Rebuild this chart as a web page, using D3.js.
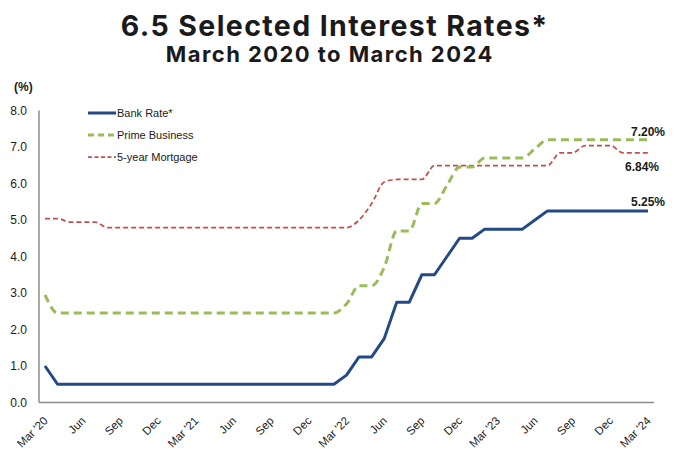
<!DOCTYPE html>
<html>
<head>
<meta charset="utf-8">
<script src="https://cdn.jsdelivr.net/npm/d3@7"></script>
<style>
    body { margin: 0; background: #fff; }
    svg { display: block; }
    .axis text { font-family: "Liberation Sans", Arial, sans-serif; fill: #1a1a1a; }
</style>
</head>
<body>
<div id="chart"></div>
<script>
'use strict';

// month categories, Mar 2020 .. Mar 2024
let months = d3.timeMonths(new Date(2020, 2, 1), new Date(2024, 3, 1)).map(d3.timeFormat('%Y-%m'));

let tickLabels = ["Mar '20", 'Jun', 'Sep', 'Dec', "Mar '21", 'Jun', 'Sep', 'Dec', "Mar '22",
    'Jun', 'Sep', 'Dec', "Mar '23", 'Jun', 'Sep', 'Dec', "Mar '24"];

let bankRate = [1.00,
    0.50, 0.50, 0.50, 0.50, 0.50, 0.50, 0.50, 0.50, 0.50, 0.50, 0.50, 0.50,
    0.50, 0.50, 0.50, 0.50, 0.50, 0.50, 0.50, 0.50, 0.50, 0.50, 0.50,
    0.75, 1.25, 1.25, 1.75, 2.75, 2.75, 3.50, 3.50, 4.00, 4.50,
    4.50, 4.75, 4.75, 4.75, 4.75, 5.00, 5.25, 5.25, 5.25, 5.25, 5.25, 5.25,
    5.25, 5.25, 5.25];

let primeBusiness = [2.95,
    2.45, 2.45, 2.45, 2.45, 2.45, 2.45, 2.45, 2.45, 2.45, 2.45, 2.45, 2.45,
    2.45, 2.45, 2.45, 2.45, 2.45, 2.45, 2.45, 2.45, 2.45, 2.45, 2.45,
    2.70, 3.20, 3.20, 3.70, 4.70, 4.70, 5.45, 5.45, 5.95, 6.45,
    6.45, 6.70, 6.70, 6.70, 6.70, 6.95, 7.20, 7.20, 7.20, 7.20, 7.20, 7.20,
    7.20, 7.20, 7.20];

let mortgage5yr = [5.04, 5.04, 4.94, 4.94, 4.94,
    4.79, 4.79, 4.79, 4.79, 4.79, 4.79, 4.79, 4.79, 4.79, 4.79,
    4.79, 4.79, 4.79, 4.79, 4.79, 4.79, 4.79, 4.79, 4.79, 4.79,
    5.00, 5.45, 6.04, 6.11, 6.11, 6.11, 6.49, 6.49, 6.49,
    6.49, 6.49, 6.49, 6.49, 6.49, 6.49, 6.49, 6.84, 6.84, 7.04, 7.04, 7.04,
    6.84, 6.84, 6.84];

let seriesNames = ['Bank Rate*', 'Prime Business', '5-year Mortgage'];
let yTicks = [0, 1, 2, 3, 4, 5, 6, 7, 8];

let width = 676,
    height = 449;

let svg = d3.select('#chart').append('svg')
    .attr('width', width)
    .attr('height', height);

// scales
let x = d3.scalePoint().domain(months).range([45, 648]);
let y = d3.scaleLinear().domain([0, 8]).range([402.5, 110.5]);

// titles: the original face is wide, so spread the letters to the same width
function fitTitle(txt, cx, by, size, targetW) {
    let t = svg.append('text')
        .attr('x', cx).attr('y', by)
        .attr('text-anchor', 'middle')
        .style('font-family', 'Inter, "Open Sans", sans-serif')
        .style('font-weight', 700)
        .style('font-size', size + 'px')
        .style('fill', '#1a1a1a')
        .text(txt);
    let w = t.node().getComputedTextLength();
    if (w > 0 && w < targetW) {
        let ls = (targetW - w) / txt.length;
        t.style('letter-spacing', ls + 'px')
            .attr('x', cx + ls / 2);
    }
}
fitTitle('6.5 Selected Interest Rates*', 334, 36, 28.5, 428);
fitTitle('March 2020 to March 2024', 329, 62, 22, 328);

svg.append('text')
    .attr('x', 14).attr('y', 91)
    .style('font-family', '"Liberation Sans", Arial, sans-serif')
    .style('font-weight', 700)
    .style('font-size', '12px')
    .style('fill', '#1a1a1a')
    .text('(%)');

// axes
let yAxis = d3.axisLeft(y).tickValues(yTicks).tickFormat(d3.format('.1f')).tickSize(0).tickPadding(12);
let gY = svg.append('g')
    .attr('class', 'axis')
    .attr('transform', 'translate(39,0)')
    .call(yAxis);
gY.select('.domain').remove();
gY.selectAll('text').style('font-size', '12px');

let tickIdx = months.filter(function(d, i) { return i % 3 === 0; });
let xAxis = d3.axisBottom(x).tickValues(tickIdx).tickSize(0)
    .tickFormat(function(d, i) { return tickLabels[i]; });
let gX = svg.append('g')
    .attr('class', 'axis')
    .attr('transform', 'translate(0,' + y(0) + ')')
    .call(xAxis);
gX.select('.domain').remove();
gX.selectAll('text')
    .style('font-size', '11.5px')
    .attr('text-anchor', 'end')
    .attr('dy', null)
    .attr('y', 0)
    .attr('transform', 'translate(3,19) rotate(-45)');

svg.append('line')
    .attr('x1', 39).attr('x2', 39)
    .attr('y1', y(8)).attr('y2', y(0))
    .style('stroke', '#8c8c8c').style('stroke-width', 1.5);
svg.append('line')
    .attr('x1', 39).attr('x2', 654)
    .attr('y1', y(0)).attr('y2', y(0))
    .style('stroke', '#8c8c8c').style('stroke-width', 1.5);

// lines
let styles = [
    {color: '#234a84', width: 3, dash: null, curve: d3.curveLinear},
    {color: '#9bbb59', width: 3, dash: '8,5', curve: d3.curveMonotoneX},
    {color: '#c0504d', width: 1.75, dash: '5,3', curve: d3.curveMonotoneX}
];
let allSeries = [bankRate, primeBusiness, mortgage5yr];

// draw back to front: mortgage, prime, bank
[2, 1, 0].forEach(function(k) {
    let line = d3.line()
        .x(function(d, i) { return x(months[i]); })
        .y(function(d) { return y(d); })
        .curve(styles[k].curve);
    svg.append('path')
        .datum(allSeries[k])
        .attr('d', line)
        .style('fill', 'none')
        .style('stroke', styles[k].color)
        .style('stroke-width', styles[k].width)
        .style('stroke-dasharray', styles[k].dash)
        .style('stroke-linejoin', 'round');
});

// legend
let legend = svg.append('g');
seriesNames.forEach(function(name, k) {
    let ly = 113 + k * 22;
    legend.append('line')
        .attr('x1', 88).attr('x2', 116)
        .attr('y1', ly).attr('y2', ly)
        .style('stroke', styles[k].color)
        .style('stroke-width', k === 2 ? 1.75 : 3)
        .style('stroke-dasharray', k === 0 ? null : (k === 1 ? '6,4' : '4,2.5'));
    legend.append('text')
        .attr('x', 117).attr('y', ly + 4)
        .style('font-family', '"Liberation Sans", Arial, sans-serif')
        .style('font-size', '11px')
        .style('fill', '#1a1a1a')
        .text(name);
});

// end labels
let last = months[months.length - 1];
let endLabels = [
    {v: primeBusiness[48], dx: 17, dy: -4},
    {v: mortgage5yr[48], dx: 11, dy: 18},
    {v: bankRate[48], dx: 17, dy: -5}
];
endLabels.forEach(function(l) {
    svg.append('text')
        .attr('x', x(last) + l.dx)
        .attr('y', y(l.v) + l.dy)
        .attr('text-anchor', 'end')
        .style('font-family', '"Liberation Sans", Arial, sans-serif')
        .style('font-weight', 700)
        .style('font-size', '12px')
        .style('fill', '#1a1a1a')
        .text(d3.format('.2f')(l.v) + '%');
});
</script>
</body>
</html>
